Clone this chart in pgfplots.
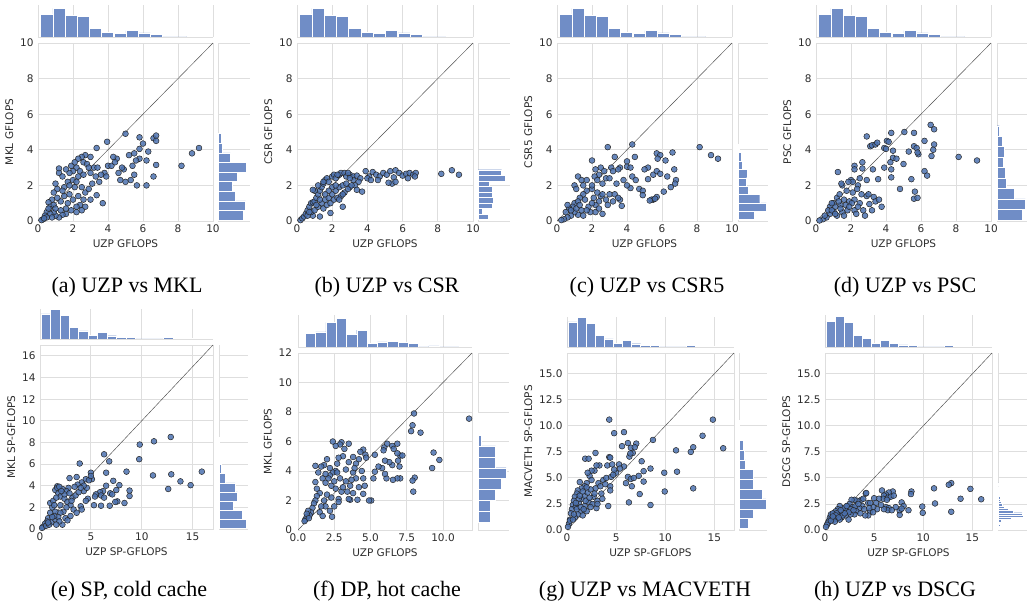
\documentclass[border=0pt]{standalone}
\usepackage{pgfplots}
\pgfplotsset{compat=1.18}
\usepackage{fontspec}
\setmainfont{DejaVu Sans}
\newfontfamily\capfont{Liberation Serif}
\definecolor{gridc}{RGB}{222,222,222}
\definecolor{barc}{RGB}{112,141,198}
\definecolor{ptc}{RGB}{76,114,176}
\definecolor{tickc}{RGB}{45,45,45}
\pgfplotsset{
 base/.style={scale only axis, anchor=south west, enlargelimits=false, major tick length=0pt,
   axis line style={draw=gridc, line width=0.9pt}, major grid style={draw=gridc, line width=0.9pt},
   /pgf/number format/assume math mode=true,
   tick label style={font=\fontsize{10.5}{12}\selectfont, text=tickc},
   label style={font=\fontsize{10.5}{12}\selectfont, text=tickc}},
 mainax/.style={base, grid=major, yticklabel style={xshift=-1pt}, xticklabel style={yshift=-0.5pt}},
 tophist/.style={base, ymin=0, xmajorgrids, axis line style={draw=none}, xticklabels={}, ytick=\empty,
   extra y ticks={0}, extra y tick labels={}, extra y tick style={grid=major}},
 righthist/.style={base, xmin=0, ymajorgrids, axis line style={draw=none}, yticklabels={}, xtick=\empty,
   extra x ticks={0}, extra x tick labels={}, extra x tick style={grid=major}},
 bars/.style={fill=barc, draw=white, line width=0.4pt},
 pts/.style={only marks, mark=*, mark size=2.9pt, mark options={fill=ptc, fill opacity=0.85, draw=black!85, line width=0.5pt}},
 diag/.style={black!70, line width=0.45pt},
 onedec/.style={/pgf/number format/.cd, fixed, fixed zerofill, precision=1},
}
\begin{document}
\begin{tikzpicture}
\path[use as bounding box] (0,0) rectangle (1029pt,607pt);

% ================= (a) =================
\begin{axis}[tophist, at={(38pt,570pt)}, width=175pt, height=32pt, xmin=0, xmax=10, ymax=95, xtick={0,2,...,10}]
\addplot[ybar, bar width=0.696, bars] coordinates {(0.498,68) (1.194,85) (1.89,65) (2.586,62) (3.28,25) (3.98,14) (4.67,10) (5.37,19) (6.07,12) (6.76,7) (7.46,0) (8.15,0) (8.85,2)};
\end{axis}
\begin{axis}[righthist, at={(218pt,386pt)}, width=32pt, height=178pt, ymin=0, ymax=10, xmax=95, ytick={0,2,...,10}]
\addplot[xbar, bar width=0.54, bars] coordinates {(75,0.32) (82,0.86) (52,1.40) (42,1.94) (57,2.48) (85,3.02) (37,3.56) (13,4.10) (10,4.64)};
\end{axis}
\begin{axis}[mainax, at={(38pt,386pt)}, width=175pt, height=178pt, xmin=0, xmax=10, ymin=0, ymax=10, xtick={0,2,...,10}, ytick={0,2,...,10}, xlabel={UZP GFLOPS}, ylabel={MKL GFLOPS}]
\addplot[diag] coordinates {(0,0) (10,10)};
\addplot[pts] coordinates {(5.0,4.9) (5.8,4.7) (6.6,4.65) (6.75,4.8) (6.75,4.5) (6.0,4.35) (3.95,4.45) (3.35,4.1) (5.8,4.05) (6.3,3.9) (9.2,4.1) (8.8,3.8) (8.2,3.1) (6.75,3.15) (6.6,2.5) (6.2,2.0) (5.65,2.0) (5.5,2.6) (5.3,2.3) (5.0,2.2) (4.7,2.3) (4.9,2.9) (5.4,3.1) (5.2,3.7) (5.5,3.8) (5.8,3.5) (6.2,3.4) (5.6,3.4) (4.5,3.5) (4.3,3.6) (4.0,3.1) (4.2,3.1) (4.4,3.3) (3.8,2.7) (3.9,2.5) (3.7,1.0) (3.35,1.45) (3.5,2.2) (3.6,2.6) (3.2,3.0) (3.4,3.0) (3.0,2.7) (2.7,3.7) (2.5,3.6) (2.3,3.5) (2.6,3.3) (2.8,3.2) (2.2,3.0) (2.0,2.8) (1.8,2.7) (1.6,2.9) (1.2,2.95) (1.2,2.7) (1.4,2.5) (1.0,2.1) (1.1,1.8) (0.9,1.6) (0.8,1.2) (0.6,1.05) (0.7,0.8) (0.5,0.5) (0.4,0.3) (0.3,0.1) (0.2,0.05) (1.5,1.9) (1.7,2.2) (2.0,2.3) (2.3,2.5) (2.1,1.9) (1.8,1.5) (2.5,1.9) (2.7,1.6) (2.9,1.8) (2.6,1.2) (2.4,0.9) (2.2,0.8) (1.9,0.6) (1.6,0.4) (1.4,0.35) (1.2,0.2) (1.0,0.3) (0.9,0.5) (1.3,0.6) (1.7,1.0) (2.0,1.2) (2.3,1.4) (2.7,0.8) (2.2,0.5) (1.6,0.7) (1.3,1.1) (0.9,0.9) (0.7,0.4) (1.1,1.3) (1.5,1.4) (3.1,2.1) (3.3,2.5) (4.6,2.7) (4.8,3.0) (3.0,3.6) (2.4,2.8) (1.9,3.1) (2.2,2.2) (2.6,2.6) (0.6,0.7) (0.8,0.2) (1.0,0.7) (1.4,1.7) (2.1,3.3) (2.9,3.0) (0.5,0.2) (0.35,0.15) (1.8,2.0) (2.5,0.6) (3.0,1.2)};
\end{axis}

% ================= (b) =================
\begin{axis}[tophist, at={(297pt,570pt)}, width=176pt, height=32pt, xmin=0, xmax=10, ymax=95, xtick={0,2,...,10}]
\addplot[ybar, bar width=0.696, bars] coordinates {(0.498,68) (1.194,85) (1.89,65) (2.586,62) (3.28,25) (3.98,14) (4.67,10) (5.37,19) (6.07,12) (6.76,7) (7.46,0) (8.15,0) (8.85,2)};
\end{axis}
\begin{axis}[righthist, at={(478pt,386pt)}, width=32pt, height=178pt, ymin=0, ymax=10, xmax=95, ytick={0,2,...,10}]
\addplot[xbar, bar width=0.311, bars] coordinates {(30,0.236) (12,0.547) (43,0.858) (45,1.169) (43,1.48) (43,1.791) (33,2.102) (80,2.413) (70,2.724)};
\end{axis}
\begin{axis}[mainax, at={(297pt,386pt)}, width=176pt, height=178pt, xmin=0, xmax=10, ymin=0, ymax=10, xtick={0,2,...,10}, ytick={0,2,...,10}, xlabel={UZP GFLOPS}, ylabel={CSR GFLOPS}]
\addplot[diag] coordinates {(0,0) (10,10)};
\addplot[pts] coordinates {(3.0,2.6) (3.2,2.5) (3.4,2.55) (3.6,2.4) (3.9,2.8) (4.1,2.5) (4.3,2.75) (4.5,2.6) (4.7,2.5) (4.9,2.7) (5.1,2.6) (5.3,2.8) (5.5,2.45) (5.6,2.85) (5.8,2.7) (6.0,2.55) (6.2,2.65) (6.4,2.7) (6.6,2.6) (6.75,2.7) (6.7,2.5) (5.4,2.1) (5.6,2.2) (5.2,2.15) (4.0,2.4) (4.2,2.3) (3.5,2.2) (3.3,2.0) (3.2,2.3) (3.7,1.65) (3.4,1.75) (3.0,1.9) (8.2,2.65) (8.8,2.85) (9.2,2.6) (6.3,2.4) (4.6,2.3) (2.6,0.8) (1.9,0.45) (1.3,0.25) (0.9,0.3) (0.2,0.05) (0.3,0.15) (0.4,0.25) (0.5,0.4) (0.6,0.6) (0.7,0.8) (0.8,1.0) (0.9,1.05) (1.0,1.1) (1.1,1.3) (1.2,1.5) (1.3,1.7) (1.4,1.9) (1.5,2.1) (1.6,2.3) (1.7,2.4) (1.8,2.2) (2.0,2.5) (2.1,2.6) (2.2,2.4) (2.4,2.6) (2.5,2.7) (2.7,2.7) (2.8,2.5) (2.9,2.7) (2.3,2.6) (1.0,1.7) (0.9,1.75) (1.2,2.0) (1.5,2.2) (0.6,0.3) (0.8,0.5) (1.0,0.6) (1.2,0.8) (1.4,1.0) (1.6,1.2) (1.8,1.3) (2.0,1.5) (2.2,1.7) (2.4,1.9) (2.6,2.0) (2.8,2.1) (1.5,0.7) (1.7,0.9) (1.9,1.0) (2.1,1.2) (2.3,1.3) (2.5,1.4) (2.7,1.6) (2.9,1.8) (3.1,2.0) (1.1,0.9) (1.3,1.2) (2.0,1.9) (2.4,1.2) (1.8,1.7) (2.6,1.5) (0.7,0.5) (1.6,1.5) (2.2,2.0) (3.0,2.4)};
\end{axis}

% ================= (c) =================
\begin{axis}[tophist, at={(557pt,570pt)}, width=175pt, height=32pt, xmin=0, xmax=10, ymax=95, xtick={0,2,...,10}]
\addplot[ybar, bar width=0.696, bars] coordinates {(0.498,68) (1.194,85) (1.89,65) (2.586,62) (3.28,25) (3.98,14) (4.67,10) (5.37,19) (6.07,12) (6.76,7) (7.46,0) (8.15,0) (8.85,2)};
\end{axis}
\begin{axis}[righthist, at={(738pt,386pt)}, width=30pt, height=178pt, ymin=0, ymax=10, xmax=87, ytick={0,2,...,10}]
\addplot[xbar, bar width=0.47, bars] coordinates {(47,0.315) (82,0.785) (63,1.255) (30,1.725) (23,2.195) (27,2.665) (13,3.135) (10,3.605) (3,4.075)};
\end{axis}
\begin{axis}[mainax, at={(557pt,386pt)}, width=175pt, height=178pt, xmin=0, xmax=10, ymin=0, ymax=10, xtick={0,2,...,10}, ytick={0,2,...,10}, xlabel={UZP GFLOPS}, ylabel={CSR5 GFLOPS}]
\addplot[diag] coordinates {(0,0) (10,10)};
\addplot[pts] coordinates {(2.9,4.15) (4.3,4.3) (8.15,4.15) (8.8,3.7) (9.2,3.5) (6.6,3.85) (5.7,3.8) (5.9,3.7) (5.75,3.5) (6.2,3.4) (4.45,3.6) (3.3,3.6) (4.0,3.35) (2.0,3.4) (3.1,3.0) (3.6,3.0) (4.0,3.05) (4.2,3.0) (5.2,3.0) (5.0,2.9) (3.5,2.9) (3.2,2.8) (2.5,3.0) (2.2,2.9) (2.4,2.6) (2.15,2.5) (2.3,2.3) (2.7,2.8) (2.8,2.4) (3.4,2.1) (2.6,2.1) (4.3,2.5) (4.5,2.3) (4.2,1.85) (4.0,2.0) (3.8,2.3) (4.7,1.8) (4.9,1.7) (5.2,2.35) (5.5,2.6) (5.7,2.8) (5.9,2.65) (6.3,2.5) (6.7,2.9) (6.8,2.3) (6.75,2.1) (6.5,1.9) (6.1,1.65) (5.7,1.35) (5.5,1.2) (5.4,1.2) (5.3,1.15) (5.6,1.25) (4.9,1.45) (3.0,1.5) (3.3,1.5) (3.6,1.2) (3.5,1.3) (3.7,0.85) (2.6,0.4) (2.2,0.5) (1.8,0.8) (1.4,0.6) (1.2,0.35) (1.0,0.5) (0.8,0.3) (0.6,0.2) (0.4,0.1) (0.25,0.05) (1.0,2.0) (1.1,1.8) (1.2,2.5) (1.4,2.3) (1.5,2.0) (1.7,1.7) (1.5,1.5) (1.3,1.3) (1.0,1.0) (0.9,0.8) (0.7,0.7) (0.5,0.5) (0.6,0.9) (1.2,1.1) (1.6,1.2) (2.0,1.8) (2.1,1.3) (2.4,1.1) (2.5,1.4) (2.8,1.2) (2.2,0.9) (1.9,0.5) (1.5,0.3) (2.0,1.0) (2.6,1.5) (3.0,2.4) (1.7,2.3) (2.0,2.0) (2.3,1.6) (1.1,0.7) (0.8,0.6) (1.3,0.9) (1.7,0.6) (2.4,0.7) (2.9,0.9) (3.2,1.1)};
\end{axis}

% ================= (d) =================
\begin{axis}[tophist, at={(816pt,570pt)}, width=175pt, height=32pt, xmin=0, xmax=10, ymax=95, xtick={0,2,...,10}]
\addplot[ybar, bar width=0.696, bars] coordinates {(0.498,68) (1.194,85) (1.89,65) (2.586,62) (3.28,25) (3.98,14) (4.67,10) (5.37,19) (6.07,12) (6.76,7) (7.46,0) (8.15,0) (8.85,2)};
\end{axis}
\begin{axis}[righthist, at={(997pt,386pt)}, width=30pt, height=178pt, ymin=0, ymax=10, xmax=87, ytick={0,2,...,10}]
\addplot[xbar, bar width=0.588, bars] coordinates {(74,0.354) (82,0.942) (50,1.53) (27,2.118) (23,2.706) (19,3.294) (22,3.882) (14,4.47) (7,5.058)};
\end{axis}
\begin{axis}[mainax, at={(816pt,386pt)}, width=175pt, height=178pt, xmin=0, xmax=10, ymin=0, ymax=10, xtick={0,2,...,10}, ytick={0,2,...,10}, xlabel={UZP GFLOPS}, ylabel={PSC GFLOPS}]
\addplot[diag] coordinates {(0,0) (10,10)};
\addplot[pts] coordinates {(2.9,4.75) (4.3,4.95) (5.05,5.0) (5.6,4.95) (6.55,5.4) (6.75,5.15) (3.9,4.1) (4.05,4.5) (4.15,4.45) (3.1,4.2) (3.2,4.25) (3.4,4.3) (3.5,4.4) (4.0,4.05) (4.4,3.95) (4.4,3.55) (4.6,3.5) (4.25,3.3) (4.3,2.9) (4.3,2.45) (3.9,3.0) (5.0,3.2) (5.3,3.9) (5.6,4.2) (5.75,4.1) (5.85,3.75) (5.8,3.85) (6.2,4.5) (6.75,4.3) (6.7,4.0) (6.6,3.65) (6.2,2.8) (6.35,2.55) (5.45,2.35) (4.8,1.8) (5.65,1.65) (5.6,1.25) (5.8,1.3) (8.15,3.6) (9.2,3.4) (3.55,2.35) (2.9,2.3) (3.25,2.9) (2.65,2.95) (2.2,3.1) (2.2,2.9) (2.65,3.3) (2.0,2.3) (2.1,2.2) (1.85,2.2) (1.5,2.0) (1.45,2.1) (1.25,2.75) (2.4,2.0) (2.35,1.8) (1.9,1.1) (2.2,1.2) (2.6,1.5) (2.9,1.4) (3.0,1.5) (3.3,1.35) (3.4,1.1) (3.6,1.2) (3.75,0.8) (2.5,1.0) (2.7,0.6) (2.2,0.6) (1.8,0.6) (1.5,0.5) (1.2,0.3) (1.0,0.55) (0.8,0.4) (0.6,0.2) (0.4,0.1) (0.2,0.03) (1.0,1.0) (1.1,0.8) (1.2,1.3) (1.35,1.5) (1.6,1.2) (1.4,0.9) (0.8,0.8) (0.7,0.6) (0.9,1.0) (1.7,0.9) (2.05,1.0) (2.3,0.4) (1.6,0.3) (2.8,0.3) (3.2,0.6) (2.5,2.4) (2.1,1.6) (1.75,1.7) (1.3,1.1) (3.05,0.95) (0.5,0.3) (0.9,0.6) (1.1,0.4) (1.4,0.7) (1.9,0.8) (2.4,0.8)};
\end{axis}

% ================= (e) =================
\begin{axis}[tophist, at={(40pt,268pt)}, width=173pt, height=30pt, xmin=0, xmax=17, ymax=92, xtick={0,5,10,15}]
\addplot[ybar, bar width=0.925, bars] coordinates {(0.5625,77) (1.4875,90) (2.4125,73) (3.3375,35) (4.2625,25) (5.1875,11) (6.1125,20) (7.0375,10) (7.9625,6) (8.8875,4) (9.8125,0) (10.7375,0) (11.6625,0) (12.5875,4) (13.5125,1) (14.4375,1) (15.3625,1)};
\end{axis}
\begin{axis}[righthist, at={(219pt,78pt)}, width=29pt, height=184pt, ymin=0, ymax=17, xmax=90, ytick={0,2,...,16}]
\addplot[xbar, bar width=0.84, bars] coordinates {(85,0.49) (72,1.33) (45,2.17) (58,3.01) (50,3.85) (20,4.69) (7,5.53) (3,6.37) (2,7.21) (2,8.05)};
\end{axis}
\begin{axis}[mainax, at={(40pt,78pt)}, width=173pt, height=184pt, xmin=0, xmax=17, ymin=0, ymax=17, xtick={0,5,10,15}, ytick={0,2,...,16}, xlabel={UZP SP-GFLOPS}, ylabel={MKL SP-GFLOPS}]
\addplot[diag] coordinates {(0,0) (17,17)};
\addplot[pts] coordinates {(12.85,8.5) (11.2,8.1) (9.8,7.8) (9.75,6.45) (6.3,6.9) (6.8,6.25) (3.9,6.05) (15.9,5.3) (12.9,5.05) (11.1,4.95) (8.5,5.3) (6.5,5.2) (5.0,5.2) (13.8,4.4) (14.8,4.05) (12.6,3.7) (8.8,3.55) (8.8,3.05) (8.3,2.4) (7.6,2.55) (7.4,2.5) (6.85,2.15) (6.0,2.15) (5.3,2.2) (7.8,4.05) (7.2,4.45) (7.5,3.6) (6.5,4.0) (6.2,3.5) (5.9,3.4) (6.0,3.1) (5.5,3.2) (5.4,3.0) (6.3,2.9) (6.9,3.3) (7.1,3.2) (4.7,2.8) (4.5,2.6) (4.0,2.1) (4.1,1.8) (4.3,3.5) (4.6,3.8) (4.1,4.3) (4.5,4.6) (5.1,4.6) (4.3,4.0) (3.7,4.1) (3.4,3.9) (2.9,4.7) (3.6,4.8) (2.8,3.8) (2.6,3.5) (2.2,3.7) (1.7,3.95) (1.5,3.6) (1.8,3.3) (2.0,3.0) (2.4,2.8) (2.7,2.5) (3.0,2.2) (3.3,1.8) (3.0,1.2) (2.5,1.0) (2.3,1.6) (2.7,0.8) (2.0,1.5) (1.5,1.6) (1.2,2.0) (1.0,1.5) (1.0,2.4) (1.3,2.6) (1.6,2.9) (0.8,1.0) (0.7,0.7) (0.5,0.5) (0.3,0.2) (0.2,0.1) (0.6,0.3) (1.1,0.6) (1.5,0.9) (1.8,1.1) (2.2,0.4) (3.6,1.5) (3.2,2.9) (2.0,2.2) (1.4,1.2) (0.9,0.4) (1.9,0.7) (3.5,3.1) (2.4,3.2) (1.6,0.4) (2.9,3.3) (3.8,3.4) (4.8,4.5) (4.0,3.8) (5.0,4.9) (1.7,3.8) (1.9,3.9) (2.1,3.5) (1.2,1.1) (0.8,0.6) (1.4,2.2) (2.6,2.0) (3.1,2.6)};
\end{axis}

% ================= (f) =================
\begin{axis}[tophist, at={(298pt,260pt)}, width=174pt, height=32pt, xmin=0, xmax=12, ymax=95, xtick={0,2.5,...,10}]
\addplot[ybar, bar width=0.71, bars] coordinates {(0.855,40) (1.565,45) (2.275,73) (2.985,85) (3.695,37) (4.405,50) (5.115,10) (5.825,15) (6.535,17) (7.245,13) (7.955,10) (8.665,0) (9.375,3) (10.085,0) (10.795,0) (11.505,1)};
\end{axis}
\begin{axis}[righthist, at={(478pt,77pt)}, width=31pt, height=177pt, ymin=0, ymax=12, xmax=93, ytick={0,2,...,12}]
\addplot[xbar, bar width=0.74, bars] coordinates {(38,0.89) (38,1.63) (53,2.37) (70,3.11) (84,3.85) (53,4.59) (53,5.33) (11,6.07) (3,6.81) (1,7.55)};
\end{axis}
\begin{axis}[mainax, at={(298pt,77pt)}, width=174pt, height=177pt, xmin=0, xmax=12, ymin=0, ymax=12, xtick={0,2.5,...,10}, ytick={0,2,...,12}, xticklabel style={onedec}, yticklabel style={xshift=-1.5pt}, xlabel={UZP GFLOPS}, ylabel={MKL GFLOPS}]
\addplot[diag] coordinates {(0,0) (12,12)};
\addplot[pts] coordinates {(11.8,7.55) (8.0,7.9) (7.9,7.1) (7.8,6.7) (8.45,6.6) (9.35,5.25) (9.75,4.75) (9.25,4.2) (8.05,3.55) (7.9,3.35) (7.95,2.6) (7.05,5.05) (7.2,5.05) (6.85,5.85) (6.85,5.2) (6.9,4.7) (7.0,4.3) (7.05,3.5) (6.85,3.5) (6.55,3.4) (6.1,3.5) (6.5,4.4) (6.3,4.6) (6.0,4.7) (5.8,4.2) (6.0,3.8) (5.55,4.3) (5.3,5.1) (5.3,3.95) (5.2,3.5) (5.05,2.0) (4.9,2.0) (4.5,2.45) (4.1,2.05) (3.6,2.05) (3.5,2.1) (5.95,5.6) (6.15,5.85) (6.5,5.7) (6.6,5.5) (5.9,5.4) (4.5,5.45) (4.3,5.3) (4.65,5.1) (4.2,4.8) (4.7,4.9) (3.8,4.95) (3.5,5.85) (3.0,5.95) (2.9,5.8) (2.6,5.7) (2.4,6.0) (3.2,5.5) (3.1,5.0) (2.8,4.9) (2.7,4.5) (3.5,4.6) (4.0,4.5) (4.4,4.0) (4.5,3.5) (4.0,3.5) (3.8,3.9) (3.6,3.0) (3.3,3.3) (2.9,3.5) (2.6,4.0) (2.4,3.9) (2.2,3.7) (2.0,4.8) (2.2,4.2) (1.8,4.4) (1.6,4.3) (1.2,4.35) (1.4,3.9) (1.7,3.5) (1.9,3.2) (2.3,3.0) (2.6,2.8) (3.0,2.6) (3.4,2.6) (3.8,2.5) (2.8,2.1) (2.3,2.2) (2.0,2.4) (1.8,2.0) (1.5,2.5) (1.3,2.3) (1.2,2.0) (1.1,1.8) (1.0,1.5) (1.2,3.25) (1.5,1.2) (1.7,0.95) (2.35,0.9) (2.2,1.3) (2.5,1.6) (2.8,1.9) (1.9,1.6) (1.6,1.6) (0.9,1.2) (0.8,1.0) (0.7,1.3) (0.6,0.9) (0.5,0.7) (0.6,1.1) (0.75,0.8) (0.45,0.6) (3.1,2.9) (3.7,3.4) (4.2,2.9) (4.6,3.0) (3.9,4.2) (2.5,3.3) (1.3,2.8) (2.1,3.5) (2.7,3.9) (3.3,4.1) (1.9,3.8)};
\end{axis}

% ================= (g) =================
\begin{axis}[tophist, at={(567pt,260pt)}, width=167pt, height=30pt, xmin=0, xmax=17, ymax=92, xtick={0,5,10,15}]
\addplot[ybar, bar width=0.925, bars] coordinates {(0.5625,77) (1.4875,90) (2.4125,73) (3.3375,35) (4.2625,25) (5.1875,11) (6.1125,20) (7.0375,10) (7.9625,6) (8.8875,4) (9.8125,0) (10.7375,0) (11.6625,0) (12.5875,4) (13.5125,1) (14.4375,1) (15.3625,1)};
\end{axis}
\begin{axis}[righthist, at={(739pt,77pt)}, width=28pt, height=177pt, ymin=0, ymax=17, xmax=85, ytick={0,2.5,...,15}]
\addplot[xbar, bar width=0.94, bars] coordinates {(29,0.63) (44,1.57) (82,2.51) (70,3.45) (42,4.39) (42,5.33) (20,6.27) (15,7.21) (14,8.15) (4,9.09) (2,10.03)};
\end{axis}
\begin{axis}[mainax, at={(567pt,77pt)}, width=167pt, height=177pt, xmin=0, xmax=17, ymin=0, ymax=17, xtick={0,5,10,15}, ytick={0,2.5,...,15}, yticklabel style={onedec}, xlabel={UZP SP-GFLOPS}, ylabel={MACVETH SP-GFLOPS}]
\addplot[diag] coordinates {(0,0) (17,17)};
\addplot[pts] coordinates {(4.3,10.6) (14.85,10.6) (4.8,9.3) (5.8,9.4) (13.8,9.05) (6.2,8.35) (7.05,8.3) (8.75,8.65) (5.6,8.05) (6.5,7.9) (6.9,7.95) (12.85,7.95) (15.9,7.85) (11.1,7.65) (12.6,7.5) (6.7,7.4) (6.35,7.05) (6.45,7.35) (4.3,7.0) (4.4,6.95) (2.9,7.4) (1.85,6.85) (2.2,6.85) (4.1,6.2) (4.6,6.3) (5.3,6.3) (5.8,6.1) (7.6,6.6) (8.5,5.9) (7.3,5.2) (7.8,5.65) (9.9,5.5) (11.2,5.6) (6.2,5.1) (6.5,4.9) (6.8,5.0) (7.8,4.65) (6.0,4.5) (6.6,4.2) (4.4,4.2) (4.4,3.8) (7.4,3.45) (9.95,3.7) (12.85,4.0) (6.3,2.65) (8.5,2.4) (4.2,2.3) (3.0,2.1) (3.5,3.5) (2.9,4.0) (3.2,4.5) (3.7,4.8) (4.0,5.0) (5.0,5.5) (4.8,5.8) (2.8,5.7) (2.5,5.7) (2.3,5.2) (2.1,5.5) (3.3,6.2) (3.0,6.2) (2.5,4.8) (2.0,4.5) (1.8,4.2) (1.5,4.0) (1.3,4.6) (1.1,3.8) (1.0,3.5) (0.8,3.2) (0.7,2.8) (0.6,2.4) (0.5,2.0) (0.4,1.6) (0.3,1.0) (0.2,0.6) (0.1,0.3) (0.3,0.9) (0.9,2.2) (1.2,2.6) (1.5,3.0) (1.8,3.3) (2.1,3.6) (2.4,3.9) (2.7,3.2) (2.2,2.7) (1.8,2.3) (1.4,1.8) (1.1,1.5) (0.8,1.2) (0.6,1.0) (1.6,1.4) (2.0,1.8) (2.6,2.5) (3.1,2.8) (3.6,3.0) (1.0,2.0) (1.4,2.2) (1.9,2.8) (2.3,3.1) (2.8,3.5) (3.4,4.2) (1.2,3.0) (0.7,1.5) (1.7,2.0) (3.9,4.4) (4.5,5.1) (5.4,5.9) (4.7,5.3) (3.1,2.5) (2.4,2.2) (1.3,3.3) (1.6,3.7) (2.0,4.1) (0.9,2.6)};
\end{axis}

% ================= (h) =================
\begin{axis}[tophist, at={(825pt,260pt)}, width=167pt, height=32pt, xmin=0, xmax=17, ymax=95, xtick={0,5,10,15}]
\addplot[ybar, bar width=0.925, bars] coordinates {(0.5625,77) (1.4875,90) (2.4125,73) (3.3375,35) (4.2625,25) (5.1875,11) (6.1125,20) (7.0375,10) (7.9625,6) (8.8875,4) (9.8125,0) (10.7375,0) (11.6625,0) (12.5875,4) (13.5125,1) (14.4375,1) (15.3625,1)};
\end{axis}
\begin{axis}[righthist, at={(998pt,77pt)}, width=29pt, height=177pt, ymin=0, ymax=17, xmax=90, ytick={0,2.5,...,15}]
\addplot[xbar, bar width=0.22, bars] coordinates {(3,0.23) (7,0.45) (5,0.67) (9,0.89) (40,1.11) (78,1.33) (75,1.55) (47,1.77) (32,1.99) (18,2.21) (12,2.43) (9,2.65) (7,2.87) (8,3.09) (5,3.31) (5,3.53) (3,3.75) (2,3.97) (0,4.19) (2,4.41)};
\end{axis}
\begin{axis}[mainax, at={(825pt,77pt)}, width=167pt, height=177pt, xmin=0, xmax=17, ymin=0, ymax=17, xtick={0,5,10,15}, ytick={0,2.5,...,15}, yticklabel style={onedec}, xlabel={UZP SP-GFLOPS}, ylabel={DSCG SP-GFLOPS}]
\addplot[diag] coordinates {(0,0) (17,17)};
\addplot[pts] coordinates {(12.85,4.5) (12.6,4.35) (11.1,4.0) (14.8,3.95) (8.8,3.7) (8.75,3.45) (13.8,3.0) (15.9,2.95) (11.2,2.55) (9.9,2.25) (9.95,1.65) (12.85,1.75) (8.5,1.9) (7.6,1.85) (7.6,1.45) (7.8,2.65) (8.0,2.3) (7.8,2.05) (7.2,2.2) (6.9,3.7) (6.5,3.6) (6.2,3.4) (5.8,3.8) (6.0,3.3) (6.4,3.1) (6.7,3.2) (7.0,3.3) (5.9,3.0) (6.3,2.9) (5.5,3.0) (5.0,3.05) (5.2,2.6) (6.2,2.2) (6.5,2.1) (6.4,1.9) (6.8,1.9) (6.0,2.0) (5.7,2.4) (5.3,2.0) (4.9,2.2) (4.6,1.8) (4.9,1.7) (4.4,1.4) (4.1,1.4) (4.15,3.5) (4.2,3.55) (3.7,2.9) (3.3,2.8) (3.0,2.9) (2.7,2.9) (4.4,2.6) (4.6,2.6) (3.8,2.3) (3.5,2.1) (3.2,1.8) (3.0,1.5) (2.6,1.5) (2.4,1.0) (2.2,1.8) (2.0,2.0) (1.8,2.1) (1.5,2.3) (1.3,2.0) (1.1,1.8) (0.9,1.5) (0.7,1.3) (0.5,1.2) (0.4,0.9) (0.3,0.7) (0.2,0.5) (0.1,0.3) (0.6,1.5) (0.8,1.6) (1.0,1.3) (1.2,1.1) (1.4,1.5) (1.6,1.7) (1.9,1.6) (2.3,2.3) (2.5,2.5) (2.8,2.2) (2.1,1.4) (1.7,1.2) (1.5,1.0) (1.2,1.6) (0.9,1.0) (2.6,2.0) (3.1,2.3) (3.4,2.5) (2.9,1.9) (3.6,1.6) (4.0,2.0) (1.0,0.8) (0.6,0.9) (2.4,1.7) (1.8,1.4) (2.2,2.3) (3.9,3.0) (4.5,2.1) (1.1,1.4) (1.4,1.2) (0.8,1.3) (2.0,1.6) (1.6,1.9)};
\end{axis}

% ================= captions =================
\begin{scope}[every node/.style={anchor=base, font=\capfont\fontsize{22}{26}\selectfont}]
\node at (127pt,314pt) {(a) UZP vs MKL};
\node at (387pt,314pt) {(b) UZP vs CSR};
\node at (647pt,314pt) {(c) UZP vs CSR5};
\node at (905pt,314pt) {(d) UZP vs PSC};
\node at (129pt,10pt) {(e) SP, cold cache};
\node at (387pt,10pt) {(f) DP, hot cache};
\node at (645pt,10pt) {(g) UZP vs MACVETH};
\node at (895pt,10pt) {(h) UZP vs DSCG};
\end{scope}
\end{tikzpicture}
\end{document}
